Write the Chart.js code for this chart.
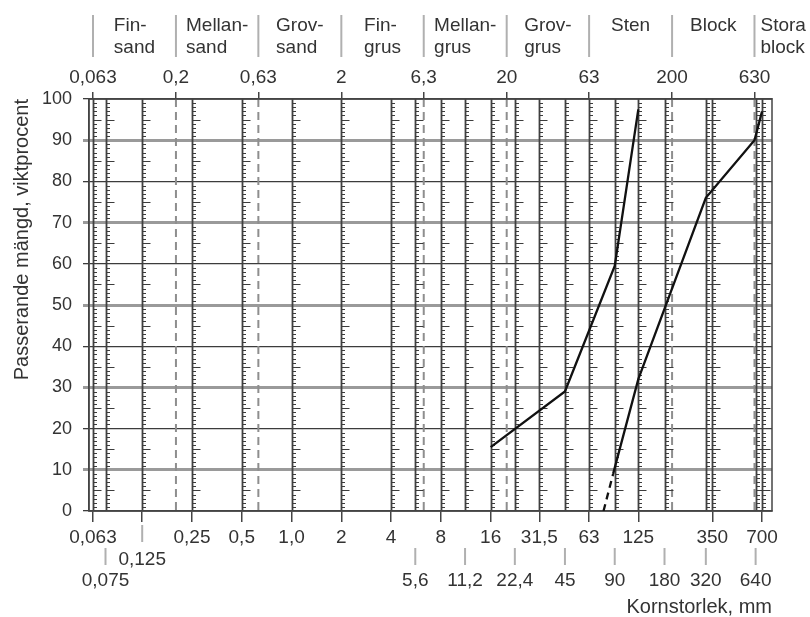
<!DOCTYPE html>
<html lang="sv">
<head>
<meta charset="UTF-8">
<title>Kornstorlek</title>
<script src="https://cdn.jsdelivr.net/npm/chart.js"></script>
<style>
  html, body { margin: 0; padding: 0; background: #fff; }
  #wrap { width: 810px; height: 617px; position: relative; }
</style>
</head>
<body>
<div id="wrap"><canvas id="chart"></canvas></div>
<script>
// sieve sizes, mm (solid lines in the grid)
const sieveSizes = [0.063, 0.075, 0.125, 0.25, 0.5, 1, 2, 4, 5.6, 8, 11.2, 16, 22.4, 31.5, 45, 63, 90, 125, 180, 320, 350, 640, 700];
// tick label rows under the chart
const bottomLabels = [0.063, 0.25, 0.5, 1, 2, 4, 8, 16, 31.5, 63, 125, 350, 700];
const middleLabels = [0.125];
const lowerLabels = [0.075, 5.6, 11.2, 22.4, 45, 90, 180, 320, 640];
// fraction limits (top axis) and names
const fractionLimits = [0.063, 0.2, 0.63, 2, 6.3, 20, 63, 200, 630];
const fractionNames = [['Fin-', 'sand'], ['Mellan-', 'sand'], ['Grov-', 'sand'], ['Fin-', 'grus'], ['Mellan-', 'grus'], ['Grov-', 'grus'], ['Sten'], ['Block'], ['Stora', 'block']];
const percentTicks = [0, 10, 20, 30, 40, 50, 60, 70, 80, 90, 100];

// grading curves
const curve1Size = [16, 45, 90, 125];
const curve1Pass = [15.5, 29, 59.5, 97.5];
const curve2Size = [88, 125, 320, 630, 700];
const curve2Pass = [9, 32, 76, 90, 97];
// extrapolated lower part of curve 2 (dashed)
const curve2ExtSize = [77, 88];
const curve2ExtPass = [0, 9];

const X_MIN = 0.0596, X_MAX = 804;
const FONT = 'Liberation Sans, Arial, sans-serif';
const TEXT = '#333';

const fmt = v => v === 1 ? '1,0' : String(v).replace('.', ',');
const pts = (xs, ys) => xs.map((v, i) => ({ x: v, y: ys[i] }));

function line(ctx, x1, y1, x2, y2) {
    ctx.beginPath();
    ctx.moveTo(x1, y1);
    ctx.lineTo(x2, y2);
    ctx.stroke();
}

const sieveGrid = {
    id: 'sieveGrid',
    beforeDatasetsDraw(chart) {
        const { ctx, chartArea: a } = chart;
        const x = chart.scales.x, y = chart.scales.y;
        ctx.save();
        // fraction limits, dashed
        ctx.strokeStyle = '#8e8e8e';
        ctx.lineWidth = 2;
        ctx.setLineDash([8, 5]);
        fractionLimits.forEach(v => {
            if (sieveSizes.includes(v)) return;
            const px = x.getPixelForValue(v);
            line(ctx, px, a.top, px, a.bottom);
        });
        ctx.setLineDash([]);
        // sieve lines with percent scale
        sieveSizes.forEach(v => {
            const px = Math.round(x.getPixelForValue(v)) + 0.5;
            ctx.strokeStyle = '#404040';
            ctx.lineWidth = 1.8;
            line(ctx, px, a.top, px, a.bottom);
            ctx.lineWidth = 1;
            ctx.strokeStyle = '#3c3c3c';
            for (let p = 1; p < 100; p++) {
                if (p % 10 === 0) continue;
                const py = Math.round(y.getPixelForValue(p)) + 0.5;
                line(ctx, px, py, px + (p % 5 === 0 ? 8 : 3.5), py);
            }
        });
        ctx.strokeStyle = '#444';
        ctx.lineWidth = 1.5;
        ctx.strokeRect(a.left, a.top, a.right - a.left, a.bottom - a.top);
        ctx.restore();
    },
    afterDraw(chart) {
        const { ctx, chartArea: a } = chart;
        const x = chart.scales.x;
        ctx.save();
        ctx.font = '19px ' + FONT;
        ctx.fillStyle = TEXT;
        ctx.textBaseline = 'middle';

        // header: fraction names
        ctx.strokeStyle = '#b0b0b0';
        ctx.lineWidth = 2;
        fractionLimits.forEach((v, i) => {
            const lo = x.getPixelForValue(v);
            line(ctx, lo, 15, lo, 57);
            const names = fractionNames[i];
            const w = Math.max(...names.map(t => ctx.measureText(t).width));
            const hi = i + 1 < fractionLimits.length ? x.getPixelForValue(fractionLimits[i + 1]) : null;
            const left = hi !== null && hi - lo > w + 8 ? (lo + hi) / 2 - w / 2 : lo + 6;
            ctx.textAlign = names.length === 1 ? 'center' : 'left';
            names.forEach((t, k) => {
                const tx = names.length === 1 ? left + w / 2 : left;
                ctx.fillText(t, tx, 26 + k * 22);
            });
        });

        // extra label rows below the chart
        ctx.textAlign = 'center';
        middleLabels.forEach(v => {
            const px = x.getPixelForValue(v);
            line(ctx, px, a.bottom + 14, px, a.bottom + 31);
            ctx.fillText(fmt(v), px, a.bottom + 49);
        });
        lowerLabels.forEach(v => {
            const px = x.getPixelForValue(v);
            line(ctx, px, a.bottom + 37, px, a.bottom + 54);
            ctx.fillText(fmt(v), px, a.bottom + 70);
        });
        ctx.restore();
    }
};

const lineStyle = { borderColor: '#111', borderWidth: 2.3, pointRadius: 0, showLine: true, fill: false, tension: 0 };

new Chart(document.getElementById('chart'), {
    type: 'scatter',
    data: {
        datasets: [
            { ...lineStyle, data: pts(curve1Size, curve1Pass) },
            { ...lineStyle, data: pts(curve2Size, curve2Pass) },
            { ...lineStyle, borderDash: [7, 5], data: pts(curve2ExtSize, curve2ExtPass) }
        ]
    },
    options: {
        responsive: true,
        maintainAspectRatio: false,
        animation: false,
        devicePixelRatio: 1,
        layout: { padding: { left: 0, right: 38, top: 0, bottom: 0 } },
        plugins: { legend: { display: false }, tooltip: { enabled: false } },
        scales: {
            x: {
                type: 'logarithmic',
                position: 'bottom',
                min: X_MIN,
                max: X_MAX,
                afterBuildTicks: s => { s.ticks = [...bottomLabels, ...middleLabels].sort((p, q) => p - q).map(v => ({ value: v })); },
                afterFit: s => { s.height = 106; },
                ticks: {
                    autoSkip: false,
                    maxRotation: 0,
                    padding: 4,
                    color: TEXT,
                    font: { family: FONT, size: 19 },
                    callback: v => bottomLabels.includes(v) ? fmt(v) : ''
                },
                grid: { drawOnChartArea: false, drawTicks: true, tickLength: 11, color: '#444', lineWidth: 1.5 },
                border: { display: true, color: '#444', width: 1.5 },
                title: {
                    display: true,
                    text: 'Kornstorlek, mm',
                    align: 'end',
                    color: TEXT,
                    font: { family: FONT, size: 20 },
                    padding: { top: 0, bottom: -2 }
                }
            },
            xTop: {
                type: 'logarithmic',
                position: 'top',
                min: X_MIN,
                max: X_MAX,
                afterBuildTicks: s => { s.ticks = fractionLimits.map(v => ({ value: v })); },
                afterFit: s => { s.height = 99; },
                ticks: {
                    autoSkip: false,
                    maxRotation: 0,
                    padding: 3,
                    color: TEXT,
                    font: { family: FONT, size: 19 },
                    callback: v => fmt(v)
                },
                grid: { drawOnChartArea: false, drawTicks: true, tickLength: 7, color: '#444', lineWidth: 1.5 },
                border: { display: true, color: '#444', width: 1.5 }
            },
            y: {
                min: 0,
                max: 100,
                afterBuildTicks: s => { s.ticks = percentTicks.map(v => ({ value: v })); },
                afterFit: s => { s.width = 89; },
                ticks: { padding: 11, color: TEXT, font: { family: FONT, size: 18 } },
                grid: {
                    tickLength: 6,
                    color: c => c.tick && c.tick.value % 20 === 10 ? '#9a9a9a' : '#3c3c3c',
                    lineWidth: c => c.tick && c.tick.value % 20 === 10 ? 3 : 1.3
                },
                border: { display: true, color: '#444', width: 1.5 },
                title: {
                    display: true,
                    text: 'Passerande mängd, viktprocent',
                    align: 'end',
                    color: TEXT,
                    font: { family: FONT, size: 20 },
                    padding: { top: 10, bottom: 0 }
                }
            }
        }
    },
    plugins: [sieveGrid]
});
</script>
</body>
</html>
